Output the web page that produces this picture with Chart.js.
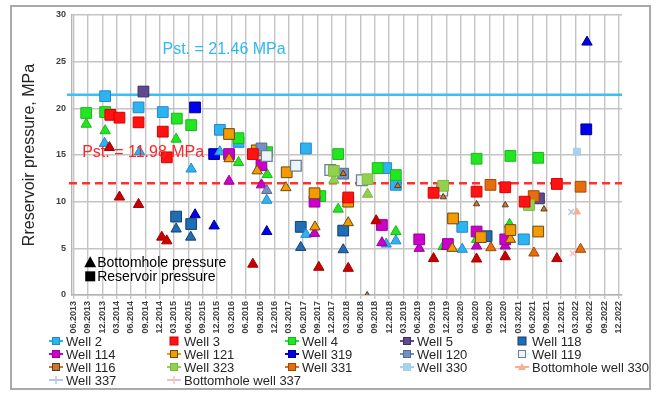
<!DOCTYPE html>
<html>
<head>
<meta charset="utf-8">
<script src="https://cdn.jsdelivr.net/npm/chart.js@4.4.0/dist/chart.umd.min.js"></script>
<style>
  html, body { margin: 0; padding: 0; background: #fff; }
  #wrap { position: relative; width: 656px; height: 394px; }
  #wrap canvas { position: absolute; left: 0; top: 0; }
  #frame { position: absolute; left: 10px; top: 5px; width: 637px; height: 381px;
           border: 2px solid #a9a9a9; pointer-events: none; }
</style>
</head>
<body>
<div id="wrap">
  <canvas id="chart" width="656" height="394"></canvas>
  <div id="frame"></div>
</div>
<script>
// Quarter labels of the time axis (x value = quarter index, fractions fall between quarters)
const quarterLabels = ['06.2013','09.2013','12.2013',
  '03.2014','06.2014','09.2014','12.2014','03.2015','06.2015','09.2015','12.2015',
  '03.2016','06.2016','09.2016','12.2016','03.2017','06.2017','09.2017','12.2017',
  '03.2018','06.2018','09.2018','12.2018','03.2019','06.2019','09.2019','12.2019',
  '03.2020','06.2020','09.2020','12.2020','03.2021','06.2021','09.2021','12.2021',
  '03.2022','06.2022','09.2022','12.2022'];
const pressureTicks = [0, 5, 10, 15, 20, 25, 30];

// Static reservoir pressure levels, MPa
const initialStaticPressure = 21.46;
const currentStaticPressure = 11.98;

// Measurements: [quarter position, pressure MPa]
const well2Reservoir   = [[2.2,21.3],[4.53,20.1],[6.22,19.6],[10.2,17.7],[11.5,16.4],[16.2,15.7],[21.8,13.6],[22.47,11.8],[27.1,7.3],[31.4,5.96]];
const well2Bottomhole  = [[2.16,16.25],[4.6,15.35],[8.2,13.5],[10.2,15.35],[13.47,10.15],[16.2,6.5],[21.8,5.46],[22.47,5.8],[27.1,4.9]];
const well3Reservoir   = [[2.56,19.3],[3.2,19.0],[4.53,18.5],[6.22,17.5],[6.5,14.75],[12.5,15.1],[19.15,10.45],[25.1,10.95],[28.1,11.07],[30.1,11.54],[31.45,10.0],[33.7,11.9]];
const well3Bottomhole  = [[2.5,15.8],[3.2,10.5],[4.53,9.7],[6.15,6.2],[6.5,5.8],[12.5,3.3],[17.1,2.97],[19.15,2.86],[21.1,7.96],[25.1,3.9],[28.1,3.86],[30.1,4.1],[33.7,3.9]];
const well4Reservoir   = [[0.88,19.5],[2.2,19.6],[7.2,18.9],[8.2,18.2],[11.5,16.8],[13.5,15.3],[17.2,10.6],[18.45,15.1],[21.2,13.6],[22.47,12.85],[28.1,14.6],[30.46,14.9],[32.4,14.7]];
const well4Bottomhole  = [[0.88,18.3],[2.2,17.6],[7.15,16.7],[11.5,14.2],[13.5,12.9],[18.45,9.2],[22.47,6.8],[25.77,5.2],[28.1,5.96],[30.4,7.57]];
const well5Reservoir   = [[4.87,21.8],[32.45,10.35]];
const well118Reservoir = [[7.15,8.4],[8.2,7.6],[15.84,7.3],[18.8,6.9],[28.8,6.3]];
const well118Bottomhole= [[7.15,7.07],[8.17,6.2],[15.84,5.1],[18.8,4.85]];
const well114Reservoir = [[10.84,15.1],[13.1,13.9],[16.8,10.0],[21.5,7.5],[24.1,5.96],[26.1,5.46],[28.1,6.8],[30.1,5.96]];
const well114Bottomhole= [[10.84,12.2],[13.1,11.8],[16.8,6.6],[21.5,5.6],[24.1,5.0],[26.0,5.2],[28.1,5.25],[30.1,5.25]];
const well121Reservoir = [[10.84,17.25],[12.77,15.5],[14.86,13.15],[16.8,10.9],[19.15,10.0],[26.46,8.2],[28.4,6.2],[30.46,6.96],[32.4,6.8]];
const well121Bottomhole= [[10.84,14.6],[12.8,13.3],[14.8,11.5],[16.83,7.3],[19.15,7.75],[26.4,5.0],[30.46,5.96]];
const well319Reservoir = [[8.47,20.1],[9.8,15.1],[35.75,17.75]];
const well319Bottomhole= [[8.47,8.6],[9.8,7.4],[13.47,6.8],[35.8,27.1]];
const well120Reservoir = [[13.1,15.7],[18.8,13.0]];
const well120Bottomhole= [[13.47,11.2],[15.5,13.8],[20.1,12.2]];
const well119Reservoir = [[13.47,14.9],[15.5,13.85],[17.9,13.4],[20.1,12.3],[25.7,11.2]];
const well116Bottomhole= [[18.8,13.0],[20.47,0],[22.6,11.7],[25.77,10.5],[28.1,9.75],[30.1,9.64],[32.8,9.2]];
const well323Reservoir = [[18.15,13.3],[20.5,12.4],[25.77,11.7],[31.75,9.64]];
const well323Bottomhole= [[18.15,12.3],[20.5,10.8]];
const well331Reservoir = [[29.07,11.8],[32.08,10.6],[35.35,11.6]];
const well331Bottomhole= [[29.1,5.07],[32.1,4.5],[35.35,4.9]];
const well330Reservoir = [[35.1,15.35]];
const well330Bottomhole= [[35.1,8.9]];
const well337Reservoir = [[34.7,8.9]];
const well337Bottomhole= [[34.8,4.46]];

// Colours per well
const palette = {
  w2:   { fill: '#2ab5f0', edge: '#2a84cc' },
  w3:   { fill: '#ff1212', edge: '#d80000' },
  w3b:  { fill: '#c80000', edge: '#a00000' },
  w4:   { fill: '#22e622', edge: '#19b819' },
  w5:   { fill: '#5e4a8c', edge: '#3e2f66' },
  w118: { fill: '#1f6db4', edge: '#17416e' },
  w114: { fill: '#cc00cc', edge: '#990099' },
  w121: { fill: '#f39b00', edge: '#6b4a10' },
  w319: { fill: '#0000ee', edge: '#00008a' },
  w120: { fill: '#7090c8', edge: '#5a6a80' },
  w119: { fill: '#eaf4fb', edge: '#6f7f8f' },
  w116: { fill: '#c8782f', edge: '#5a3a20' },
  w323: { fill: '#92d050', edge: '#7cb83f' },
  w331: { fill: '#e66c0c', edge: '#a04a0a' },
  w330: { fill: '#a8d2ea', edge: '#a8d2ea' },
  b330: { fill: '#f7b08e', edge: '#f7b08e' },
  w337: { fill: '#b8c8ea', edge: '#b8c8ea' },
  b337: { fill: '#f0c0c0', edge: '#f0c0c0' }
};

function markers(points, colour, shape, radius, borderWidth) {
  return {
    data: points.map(([q, p]) => ({ x: q, y: p })),
    showLine: false,
    pointStyle: shape,
    pointRadius: radius,
    pointBackgroundColor: colour.fill,
    pointBorderColor: colour.edge,
    pointBorderWidth: borderWidth === undefined ? 1 : borderWidth
  };
}

// First dataset is painted last (on top)
const datasets = [
  markers(well116Bottomhole, palette.w116, 'triangle', 3.6),
  markers(well330Bottomhole, palette.b330, 'triangle', 4),
  markers(well330Reservoir, palette.w330, 'rect', 5),
  markers(well337Reservoir, palette.w337, 'crossRot', 4, 1.5),
  markers(well337Bottomhole, palette.b337, 'crossRot', 4, 1.5),
  markers(well3Reservoir, palette.w3, 'rect', 7.6),
  markers(well3Bottomhole, palette.w3b, 'triangle', 6),
  markers(well323Reservoir, palette.w323, 'rect', 7.6),
  markers(well323Bottomhole, palette.w323, 'triangle', 6),
  markers(well119Reservoir, palette.w119, 'rect', 7.6, 1.3),
  markers(well120Reservoir, palette.w120, 'rect', 7.6),
  markers(well120Bottomhole, palette.w120, 'triangle', 6),
  markers(well121Reservoir, palette.w121, 'rect', 7.6),
  markers(well121Bottomhole, palette.w121, 'triangle', 6),
  markers(well331Reservoir, palette.w331, 'rect', 7.6),
  markers(well331Bottomhole, palette.w331, 'triangle', 6),
  markers(well114Reservoir, palette.w114, 'rect', 7.6),
  markers(well114Bottomhole, palette.w114, 'triangle', 6),
  markers(well4Reservoir, palette.w4, 'rect', 7.6),
  markers(well4Bottomhole, palette.w4, 'triangle', 6),
  markers(well2Reservoir, palette.w2, 'rect', 7.6),
  markers(well2Bottomhole, palette.w2, 'triangle', 6),
  markers(well118Reservoir, palette.w118, 'rect', 7.6),
  markers(well118Bottomhole, palette.w118, 'triangle', 6),
  markers(well319Reservoir, palette.w319, 'rect', 7.6),
  markers(well319Bottomhole, palette.w319, 'triangle', 6),
  markers(well5Reservoir, palette.w5, 'rect', 7.6)
];

// Legend grid, row by row
const legendEntries = [
  ['Well 2', 'w2', 'lineSquare'], ['Well 3', 'w3', 'square'], ['Well 4', 'w4', 'lineSquare'],
  ['Well 5', 'w5', 'lineSquare'], ['Well 118', 'w118', 'square'],
  ['Well 114', 'w114', 'lineSquare'], ['Well 121', 'w121', 'lineSquare'], ['Well 319', 'w319', 'lineSquare'],
  ['Well 120', 'w120', 'lineSquare'], ['Well 119', 'w119', 'lineSquare'],
  ['Well 116', 'w116', 'lineSquare'], ['Well 323', 'w323', 'lineSquare'], ['Well 331', 'w331', 'lineSquare'],
  ['Well 330', 'w330', 'lineSquare'], ['Bottomhole well 330', 'b330', 'lineTriangle'],
  ['Well 337', 'w337', 'lineCross'], ['Bottomhole well 337', 'b337', 'lineCross']
];

const FONT = '"Liberation Sans", Arial, sans-serif';

const decorations = {
  id: 'decorations',
  beforeDatasetsDraw(chart) {
    const { ctx, chartArea, scales: { y } } = chart;
    ctx.save();
    let py = y.getPixelForValue(initialStaticPressure);
    ctx.strokeStyle = '#3dbff3';
    ctx.lineWidth = 2.5;
    ctx.beginPath();
    ctx.moveTo(chartArea.left - 5, py);
    ctx.lineTo(chartArea.right, py);
    ctx.stroke();
    py = y.getPixelForValue(currentStaticPressure);
    ctx.strokeStyle = '#ff3030';
    ctx.setLineDash([8, 5]);
    ctx.beginPath();
    ctx.moveTo(chartArea.left - 3, py);
    ctx.lineTo(chartArea.right, py);
    ctx.stroke();
    ctx.restore();
  },
  afterDatasetsDraw(chart) {
    const { ctx, scales: { x, y } } = chart;
    ctx.save();
    ctx.textBaseline = 'middle';
    ctx.textAlign = 'left';
    ctx.font = '16px ' + FONT;
    ctx.fillStyle = '#2fb8f2';
    ctx.fillText('Pst. = ' + initialStaticPressure.toFixed(2) + ' MPa', x.getPixelForValue(6.2), y.getPixelForValue(26.3));
    ctx.fillStyle = '#ff2424';
    ctx.fillText('Pst. = ' + currentStaticPressure.toFixed(2) + ' MPa', x.getPixelForValue(0.6), y.getPixelForValue(15.3));

    // marker key
    ctx.fillStyle = '#000';
    const tx = x.getPixelForValue(1.16), ty = y.getPixelForValue(3.5);
    ctx.beginPath();
    ctx.moveTo(tx, ty - 6); ctx.lineTo(tx + 6, ty + 5); ctx.lineTo(tx - 6, ty + 5); ctx.closePath();
    ctx.fill();
    const sy = ty + 14;
    ctx.fillRect(tx - 5, sy - 5, 10, 10);
    ctx.font = '14px ' + FONT;
    ctx.fillText('Bottomhole pressure', tx + 7, ty + 0.5);
    ctx.fillText('Reservoir pressure', tx + 7, sy + 0.5);
    ctx.restore();
  },
  afterDraw(chart) {
    const { ctx } = chart;
    const colX = [48, 166, 284, 399, 514];
    const rowY = [341, 354, 367, 380];
    ctx.save();
    ctx.font = '13px ' + FONT;
    ctx.textBaseline = 'middle';
    legendEntries.forEach(([name, key, kind], i) => {
      const c = palette[key];
      const x0 = colX[i % 5], yc = rowY[Math.floor(i / 5)];
      const mx = x0 + 8;
      if (kind !== 'square') {
        ctx.strokeStyle = c.fill;
        ctx.lineWidth = 2;
        ctx.beginPath(); ctx.moveTo(x0 + 1, yc); ctx.lineTo(x0 + 15, yc); ctx.stroke();
      }
      if (kind === 'lineSquare' || kind === 'square') {
        ctx.fillStyle = c.fill;
        ctx.strokeStyle = c.edge;
        ctx.lineWidth = 1;
        const s = kind === 'square' ? 8 : 7;
        ctx.fillRect(mx - s / 2, yc - s / 2, s, s);
        ctx.strokeRect(mx - s / 2, yc - s / 2, s, s);
      } else if (kind === 'lineTriangle') {
        ctx.fillStyle = c.fill;
        ctx.beginPath(); ctx.moveTo(mx, yc - 4); ctx.lineTo(mx + 4, yc + 3); ctx.lineTo(mx - 4, yc + 3); ctx.closePath(); ctx.fill();
      } else if (kind === 'lineCross') {
        ctx.strokeStyle = c.fill;
        ctx.lineWidth = 1.5;
        ctx.beginPath(); ctx.moveTo(mx, yc - 4); ctx.lineTo(mx, yc + 4); ctx.stroke();
      }
      ctx.fillStyle = '#262626';
      ctx.fillText(name, x0 + 18, yc + 1);
    });
    ctx.restore();
  }
};

new Chart(document.getElementById('chart'), {
  type: 'scatter',
  data: { datasets },
  options: {
    responsive: false,
    animation: false,
    layout: { padding: { left: 12, top: 15, right: 34, bottom: 54 } },
    plugins: { legend: { display: false }, tooltip: { enabled: false } },
    scales: {
      x: {
        type: 'linear', min: -0.11, max: 38.24,
        afterBuildTicks: s => { s.ticks = quarterLabels.map((_, i) => ({ value: i })); },
        afterFit: s => { s.height = 45; },
        grid: { color: '#c4c4c4', lineWidth: 1.4, tickLength: 4 },
        border: { color: '#b4b4b4', width: 1.4 },
        ticks: {
          autoSkip: false, minRotation: 90, maxRotation: 90, padding: 2,
          color: '#404040', font: { family: FONT, size: 9, weight: 'bold' },
          callback: v => quarterLabels[v] ?? ''
        }
      },
      y: {
        min: 0, max: 30,
        afterBuildTicks: s => { s.ticks = pressureTicks.map(v => ({ value: v })); },
        afterFit: s => { s.width = 60; },
        grid: { color: '#c4c4c4', lineWidth: 1.4, drawTicks: false },
        border: { color: '#b4b4b4', width: 1.4 },
        ticks: { padding: 6, color: '#404040', font: { family: FONT, size: 9, weight: 'bold' } },
        title: {
          display: true, text: 'Rreservoir pressure, MPa', color: '#262626',
          font: { family: FONT, size: 16 }, padding: { top: 8, bottom: 0 }
        }
      }
    }
  },
  plugins: [decorations]
});
</script>
</body>
</html>
